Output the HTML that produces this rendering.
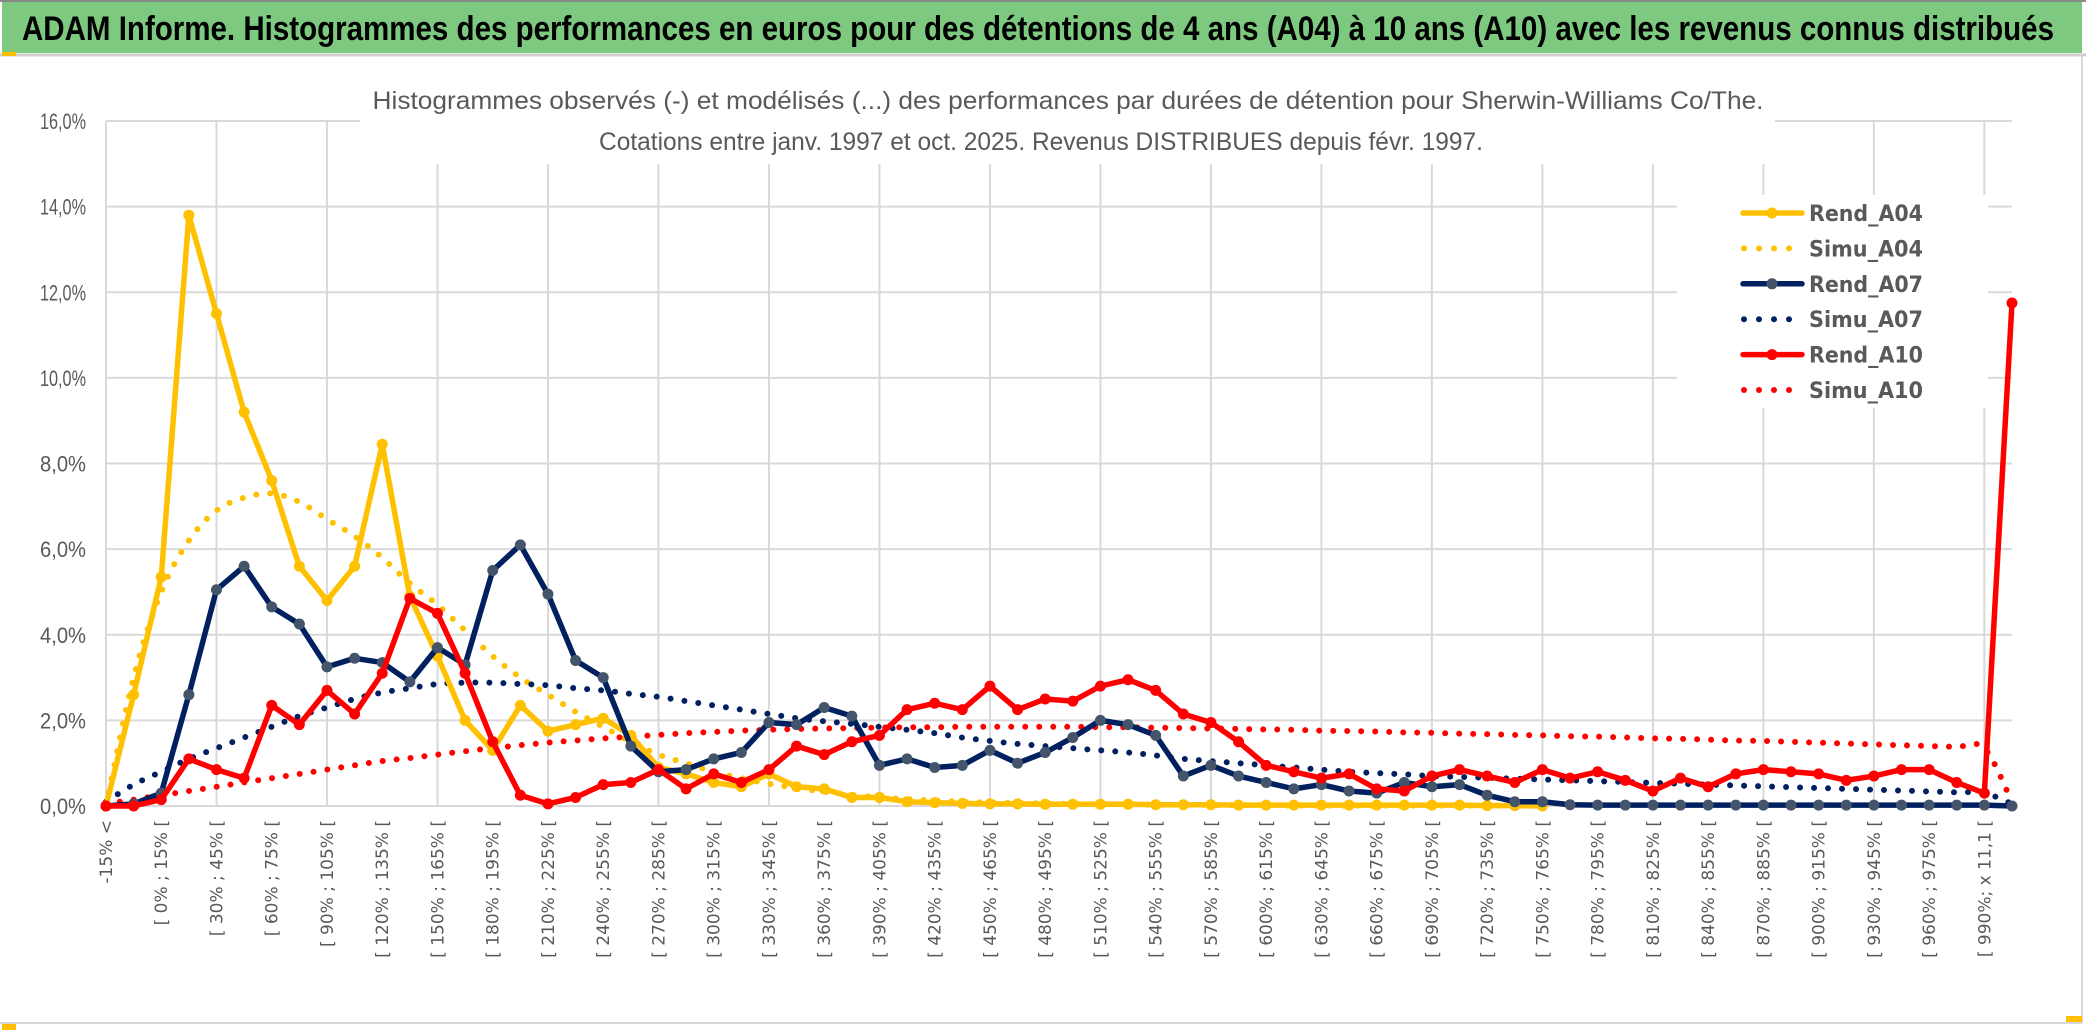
<!DOCTYPE html>
<html><head><meta charset="utf-8">
<style>
html,body{margin:0;padding:0;background:#fff;}
svg{display:block;}
</style></head>
<body>
<svg id="chart" width="2086" height="1033" viewBox="0 0 2086 1033" xmlns="http://www.w3.org/2000/svg">
  <rect x="0" y="0" width="2086" height="1033" fill="#fff"/>
  <rect x="2" y="2" width="2080" height="51" fill="#7DC97F"/>
  <line x1="0" y1="1" x2="2086" y2="1" stroke="#888" stroke-width="2"/>
  <line x1="0" y1="55" x2="2086" y2="55" stroke="#d0d0d0" stroke-width="3"/>
  <text x="1038" y="40" text-anchor="middle" font-family="'Liberation Sans Narrow','Liberation Sans',sans-serif" font-weight="bold" font-size="34" fill="#000" textLength="2032" lengthAdjust="spacingAndGlyphs">ADAM Informe. Histogrammes des performances en euros pour des détentions de 4 ans (A04) à 10 ans (A10) avec les revenus connus distribués</text>
  <rect x="2" y="52" width="14" height="4" fill="#FFC000"/>
  <line x1="0" y1="1023" x2="2082" y2="1023" stroke="#d8d8d8" stroke-width="2"/>
  <line x1="2082" y1="56" x2="2082" y2="1023" stroke="#d8d8d8" stroke-width="2"/>
  <rect x="2" y="1024" width="14" height="6" fill="#FFC000"/>
  <rect x="2066" y="1016" width="16" height="6" fill="#FFC000"/>
  <g id="grid"></g>
  <g id="yticks"></g>
  <g id="xticks"></g>
  <g id="series"></g>
  <rect x="360" y="78" width="1415" height="86" fill="#fff"/>
  <text x="1068" y="109" text-anchor="middle" font-family="'Liberation Sans Narrow','Liberation Sans',sans-serif" font-size="25" fill="#595959" textLength="1391" lengthAdjust="spacingAndGlyphs">Histogrammes observés (-) et modélisés (...) des performances par durées de détention pour Sherwin-Williams Co/The.</text>
  <text x="1041" y="150" text-anchor="middle" font-family="'Liberation Sans Narrow','Liberation Sans',sans-serif" font-size="25" fill="#595959" textLength="884" lengthAdjust="spacingAndGlyphs">Cotations entre janv. 1997 et oct. 2025. Revenus DISTRIBUES depuis févr. 1997.</text>
  <g id="legend"></g>
</svg>
<script>
const categoryCount = 70;
const yTickValues = [0, 2, 4, 6, 8, 10, 12, 14, 16];
const rendA04 = [0,2.6,5.35,13.8,11.5,9.2,7.6,5.6,4.8,5.6,8.45,4.9,3.5,2.0,1.3,2.35,1.75,1.9,2.05,1.65,0.9,0.75,0.55,0.45,0.75,0.45,0.4,0.2,0.2,0.1,0.08,0.06,0.05,0.05,0.04,0.04,0.04,0.04,0.03,0.03,0.03,0.02,0.02,0.02,0.02,0.02,0.02,0.02,0.02,0.02,0.01,0.01,0];
const simuA04 = [0,3.0,5.0,6.2,6.9,7.2,7.3,7.1,6.7,6.3,5.8,5.2,4.7,4.1,3.5,3.0,2.6,2.2,1.85,1.5,1.2,1.0,0.8,0.65,0.52,0.42,0.33,0.26,0.2,0.16,0.13,0.1,0.08,0.07,0.06,0.05,0.04,0.04,0.03,0.03,0.02,0.02,0.02,0.01,0.01,0.01,0.01,0.01,0.01,0.01,0.01,0.01,0];
const rendA07 = [0,0.05,0.3,2.6,5.05,5.6,4.65,4.25,3.25,3.45,3.35,2.9,3.7,3.3,5.5,6.1,4.95,3.4,3.0,1.4,0.8,0.85,1.1,1.25,1.95,1.9,2.3,2.1,0.95,1.1,0.9,0.95,1.3,1.0,1.25,1.6,2.0,1.9,1.65,0.7,0.95,0.7,0.55,0.4,0.5,0.35,0.3,0.55,0.45,0.5,0.25,0.1,0.1,0.03,0.02,0.02,0.02,0.02,0.02,0.02,0.02,0.02,0.02,0.02,0.02,0.02,0.02,0.02,0.02,0];
const simuA07 = [0.1,0.5,0.8,1.1,1.35,1.6,1.85,2.1,2.3,2.5,2.65,2.75,2.85,2.88,2.88,2.85,2.82,2.75,2.7,2.62,2.55,2.45,2.35,2.25,2.15,2.05,1.98,1.92,1.85,1.78,1.7,1.6,1.52,1.45,1.4,1.35,1.3,1.25,1.18,1.1,1.05,1.0,0.95,0.9,0.85,0.8,0.77,0.74,0.7,0.68,0.66,0.64,0.62,0.6,0.58,0.56,0.54,0.52,0.5,0.48,0.46,0.44,0.42,0.4,0.38,0.36,0.34,0.32,0.3,0.05];
const rendA10 = [0,0,0.15,1.1,0.85,0.65,2.35,1.9,2.7,2.15,3.1,4.85,4.5,3.1,1.5,0.25,0.05,0.2,0.5,0.55,0.85,0.4,0.75,0.55,0.85,1.4,1.2,1.5,1.65,2.25,2.4,2.25,2.8,2.25,2.5,2.45,2.8,2.95,2.7,2.15,1.95,1.5,0.95,0.8,0.65,0.75,0.4,0.35,0.7,0.85,0.7,0.55,0.85,0.65,0.8,0.6,0.35,0.65,0.45,0.75,0.85,0.8,0.75,0.6,0.7,0.85,0.85,0.55,0.3,11.75];
const simuA10 = [0.05,0.15,0.25,0.35,0.45,0.55,0.65,0.75,0.85,0.95,1.05,1.12,1.2,1.28,1.35,1.42,1.48,1.53,1.58,1.62,1.66,1.7,1.73,1.76,1.78,1.8,1.81,1.82,1.83,1.84,1.84,1.85,1.85,1.85,1.85,1.85,1.84,1.84,1.83,1.82,1.81,1.8,1.79,1.78,1.76,1.75,1.74,1.72,1.71,1.69,1.68,1.66,1.65,1.63,1.62,1.6,1.58,1.57,1.55,1.53,1.52,1.5,1.48,1.46,1.44,1.42,1.4,1.38,1.35,0.1];
const legendLabels = ["Rend_A04","Simu_A04","Rend_A07","Simu_A07","Rend_A10","Simu_A10"];

const NS = "http://www.w3.org/2000/svg";
const X0 = 106, X1 = 2012, Y0 = 806, Y1 = 121, YMAX = 16;
function xPx(i){ return X0 + i * (X1 - X0) / (categoryCount - 1); }
function yPx(v){ return Y0 - v / YMAX * (Y0 - Y1); }
function mk(tag, attrs, parent){ const e = document.createElementNS(NS, tag); for (const k in attrs) e.setAttribute(k, attrs[k]); parent.appendChild(e); return e; }
function catLabel(i){
  if (i === 0) return "-15% <";
  const lo = (i - 2) * 15;
  if (lo === 990) return "[ 990%; x 11,1 [";
  return "[ " + lo + "% ; " + (lo + 15) + "% [";
}

const grid = document.getElementById('grid');
yTickValues.forEach(v => {
  const l = mk('line', {x1: X0, x2: X1, y1: yPx(v), y2: yPx(v), stroke: '#d9d9d9', 'stroke-width': 2}, grid);
  
  
});
for (let i = 0; i < categoryCount; i += 4) {
  const l = mk('line', {x1: xPx(i), x2: xPx(i), y1: Y1, y2: Y0, stroke: '#d9d9d9', 'stroke-width': 2}, grid);
  
  
}
const yt = document.getElementById('yticks');
yTickValues.forEach(v => {
  const t = mk('text', {x: 86, y: yPx(v) + 8, 'text-anchor': 'end', 'font-family': "'Liberation Sans Narrow','Liberation Sans',sans-serif", 'font-size': 22, fill: '#595959', textLength: 46, lengthAdjust: 'spacingAndGlyphs'}, yt);
  t.textContent = v.toFixed(1).replace('.', ',') + '%';
  
  
});
const xt = document.getElementById('xticks');
for (let i = 0; i <= 68; i += 2) {
  const x = xPx(i) + 6, y = 820;
  const t = mk('text', {x: x, y: y, 'text-anchor': 'end', transform: 'rotate(-90 ' + x + ' ' + y + ')', 'font-family': "'DejaVu Sans',sans-serif", 'font-size': 17, fill: '#595959'}, xt);
  t.textContent = catLabel(i);
  
  
}

function smoothPath(vals){
  const p = vals.map((v, i) => [xPx(i), yPx(v)]);
  let d = 'M' + p[0][0] + ',' + p[0][1];
  for (let i = 0; i < p.length - 1; i++) {
    const a = p[i - 1] || p[i], b = p[i], c = p[i + 1], e = p[i + 2] || c;
    const c1 = [b[0] + (c[0] - a[0]) / 6, b[1] + (c[1] - a[1]) / 6];
    const c2 = [c[0] - (e[0] - b[0]) / 6, c[1] - (e[1] - b[1]) / 6];
    d += ' C' + c1[0] + ',' + c1[1] + ' ' + c2[0] + ',' + c2[1] + ' ' + c[0] + ',' + c[1];
  }
  return d;
}
const ser = document.getElementById('series');
function drawSimu(vals, color, name){
  const p = mk('path', {d: smoothPath(vals), fill: 'none', stroke: color, 'stroke-width': 6, 'stroke-linecap': 'round', 'stroke-dasharray': '0 14'}, ser);
  
  
}
function drawRend(vals, color, mcolor, name){
  const pts = vals.map((v, i) => xPx(i) + ',' + yPx(v)).join(' ');
  const l = mk('polyline', {points: pts, fill: 'none', stroke: color, 'stroke-width': 5.5, 'stroke-linejoin': 'round'}, ser);
  
  
  vals.forEach((v, i) => {
    const c = mk('circle', {cx: xPx(i), cy: yPx(v), r: 5.5, fill: mcolor}, ser);
    
    
  });
}
drawSimu(simuA04, '#FFC000', 'simu-a04-series');
drawSimu(simuA07, '#002060', 'simu-a07-series');
drawSimu(simuA10, '#FF0000', 'simu-a10-series');
drawRend(rendA04, '#FFC000', '#FFC000', 'rend-a04');
drawRend(rendA07, '#002060', '#44546A', 'rend-a07');
drawRend(rendA10, '#FF0000', '#FF0000', 'rend-a10');

const lg = document.getElementById('legend');
const lbg = mk('rect', {x: 1677, y: 195, width: 311, height: 213, fill: '#fff'}, lg);


const legColors = ['#FFC000','#FFC000','#002060','#002060','#FF0000','#FF0000'];
const legMarker = ['#FFC000',null,'#44546A',null,'#FF0000',null];
legendLabels.forEach((lab, k) => {
  const y = 213 + k * 35.4;
  const g = mk('g', {}, lg);
  
  
  if (legMarker[k]) {
    mk('line', {x1: 1743, x2: 1802, y1: y, y2: y, stroke: legColors[k], 'stroke-width': 5.5, 'stroke-linecap': 'round'}, g);
    mk('circle', {cx: 1772, cy: y, r: 5.5, fill: legMarker[k]}, g);
  } else {
    mk('line', {x1: 1744, x2: 1802, y1: y, y2: y, stroke: legColors[k], 'stroke-width': 6, 'stroke-linecap': 'round', 'stroke-dasharray': '0 15'}, g);
  }
  const t = mk('text', {x: 1809, y: y + 8, 'font-family': "'DejaVu Sans',sans-serif", 'font-weight': 'bold', 'font-size': 22, fill: '#595959', textLength: 114, lengthAdjust: 'spacingAndGlyphs'}, g);
  t.textContent = lab;
});
</script>
</body></html>
